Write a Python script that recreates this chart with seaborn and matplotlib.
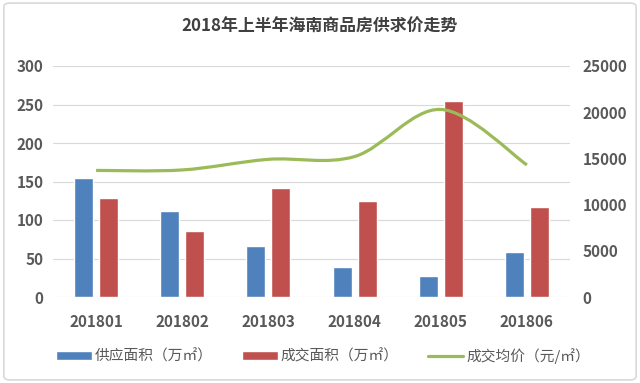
import matplotlib
matplotlib.use("Agg")
import matplotlib.pyplot as plt
import seaborn as sns
import numpy as np
import pandas as pd
from matplotlib.path import Path
from matplotlib.patches import PathPatch, Patch, FancyBboxPatch
from matplotlib.lines import Line2D

# Data
months = ["201801", "201802", "201803", "201804", "201805", "201806"]
supply_area = [154, 112, 66, 39, 27, 59]        # 供应面积（万㎡）
deal_area = [129, 86, 142, 125, 254, 117]       # 成交面积（万㎡）
avg_price = [13700, 13750, 14900, 15200, 20300, 14300]  # 成交均价（元/㎡）

series_names = ["供应面积（万㎡）", "成交面积（万㎡）", "成交均价（元/㎡）"]
title = "2018年上半年海南商品房供求价走势"

BLUE = "#4F81BD"
RED = "#C0504D"
GREEN = "#9BBB59"
TEXT = "#595959"
GRID = "#D9D9D9"

df = pd.DataFrame({
    "month": months * 2,
    "series": [series_names[0]] * len(months) + [series_names[1]] * len(months),
    "value": supply_area + deal_area,
})

sns.set_theme(style="white")
plt.rcParams["font.family"] = ["Noto Sans CJK SC", "DejaVu Sans"]

fig = plt.figure(figsize=(6.4, 3.83), dpi=100)
fig.patch.set_facecolor("white")
ax = fig.add_axes([53 / 640, 1 - 297 / 383, 517 / 640, 231 / 383])

sns.barplot(data=df, x="month", y="value", hue="series",
            palette=[BLUE, RED], width=0.58, gap=0.24,
            legend=False, ax=ax, saturation=1)

ax.set_ylim(0, 300)
ax.set_yticks(np.arange(0, 301, 50))
ax.set_xlim(-0.5, len(months) - 0.5)
ax.set_xlabel("")
ax.set_ylabel("")
ax.grid(axis="y", color=GRID, linewidth=0.8)
ax.set_axisbelow(True)
for s in ax.spines.values():
    s.set_visible(False)
ax.tick_params(axis="y", length=0, pad=7, labelsize=11, labelcolor=TEXT)
ax.tick_params(axis="x", length=0, pad=12, labelsize=11, labelcolor=TEXT)
for lab in ax.get_xticklabels() + ax.get_yticklabels():
    lab.set_fontweight("bold")

# secondary axis: smoothed price line
ax2 = ax.twinx()
ax2.set_ylim(0, 25000)
ax2.set_yticks(np.arange(0, 25001, 5000))
for s in ax2.spines.values():
    s.set_visible(False)
ax2.tick_params(axis="y", length=0, pad=9, labelsize=11, labelcolor=TEXT)
for lab in ax2.get_yticklabels():
    lab.set_fontweight("bold")
ax2.grid(False)

# smooth curve (Catmull-Rom as cubic Bezier segments) through the data points
pts = np.column_stack([np.arange(len(months)), avg_price]).astype(float)
verts = [tuple(pts[0])]
codes = [Path.MOVETO]
n = len(pts)
for i in range(n - 1):
    p0 = pts[max(i - 1, 0)]
    p1 = pts[i]
    p2 = pts[i + 1]
    p3 = pts[min(i + 2, n - 1)]
    c1 = p1 + (p2 - p0) / 6
    c2 = p2 - (p3 - p1) / 6
    verts += [tuple(c1), tuple(c2), tuple(p2)]
    codes += [Path.CURVE4] * 3
ax2.add_patch(PathPatch(Path(verts, codes), facecolor="none",
                        edgecolor=GREEN, linewidth=2.3, capstyle="butt"))

fig.suptitle(title, x=0.5, y=1 - 27 / 383, va="center", fontsize=12.2,
             fontweight="bold", color="#404040")

handles = [Patch(facecolor=BLUE), Patch(facecolor=RED),
           Line2D([0], [0], color=GREEN, linewidth=2.3)]
fig.legend(handles, series_names, loc="center", ncol=3, frameon=False,
           bbox_to_anchor=(0.505, 1 - 356 / 383), fontsize=10.6,
           handlelength=2.4, handleheight=0.6, handletextpad=0.2,
           columnspacing=2.0, labelcolor=TEXT)

# light rounded frame around the whole chart
fig.patches.append(FancyBboxPatch((0.006, 0.008), 0.988, 0.984,
                                  boxstyle="round,pad=0,rounding_size=0.01",
                                  transform=fig.transFigure, facecolor="none",
                                  edgecolor=GRID, linewidth=1.2))

fig.savefig("out.png", dpi=100)
